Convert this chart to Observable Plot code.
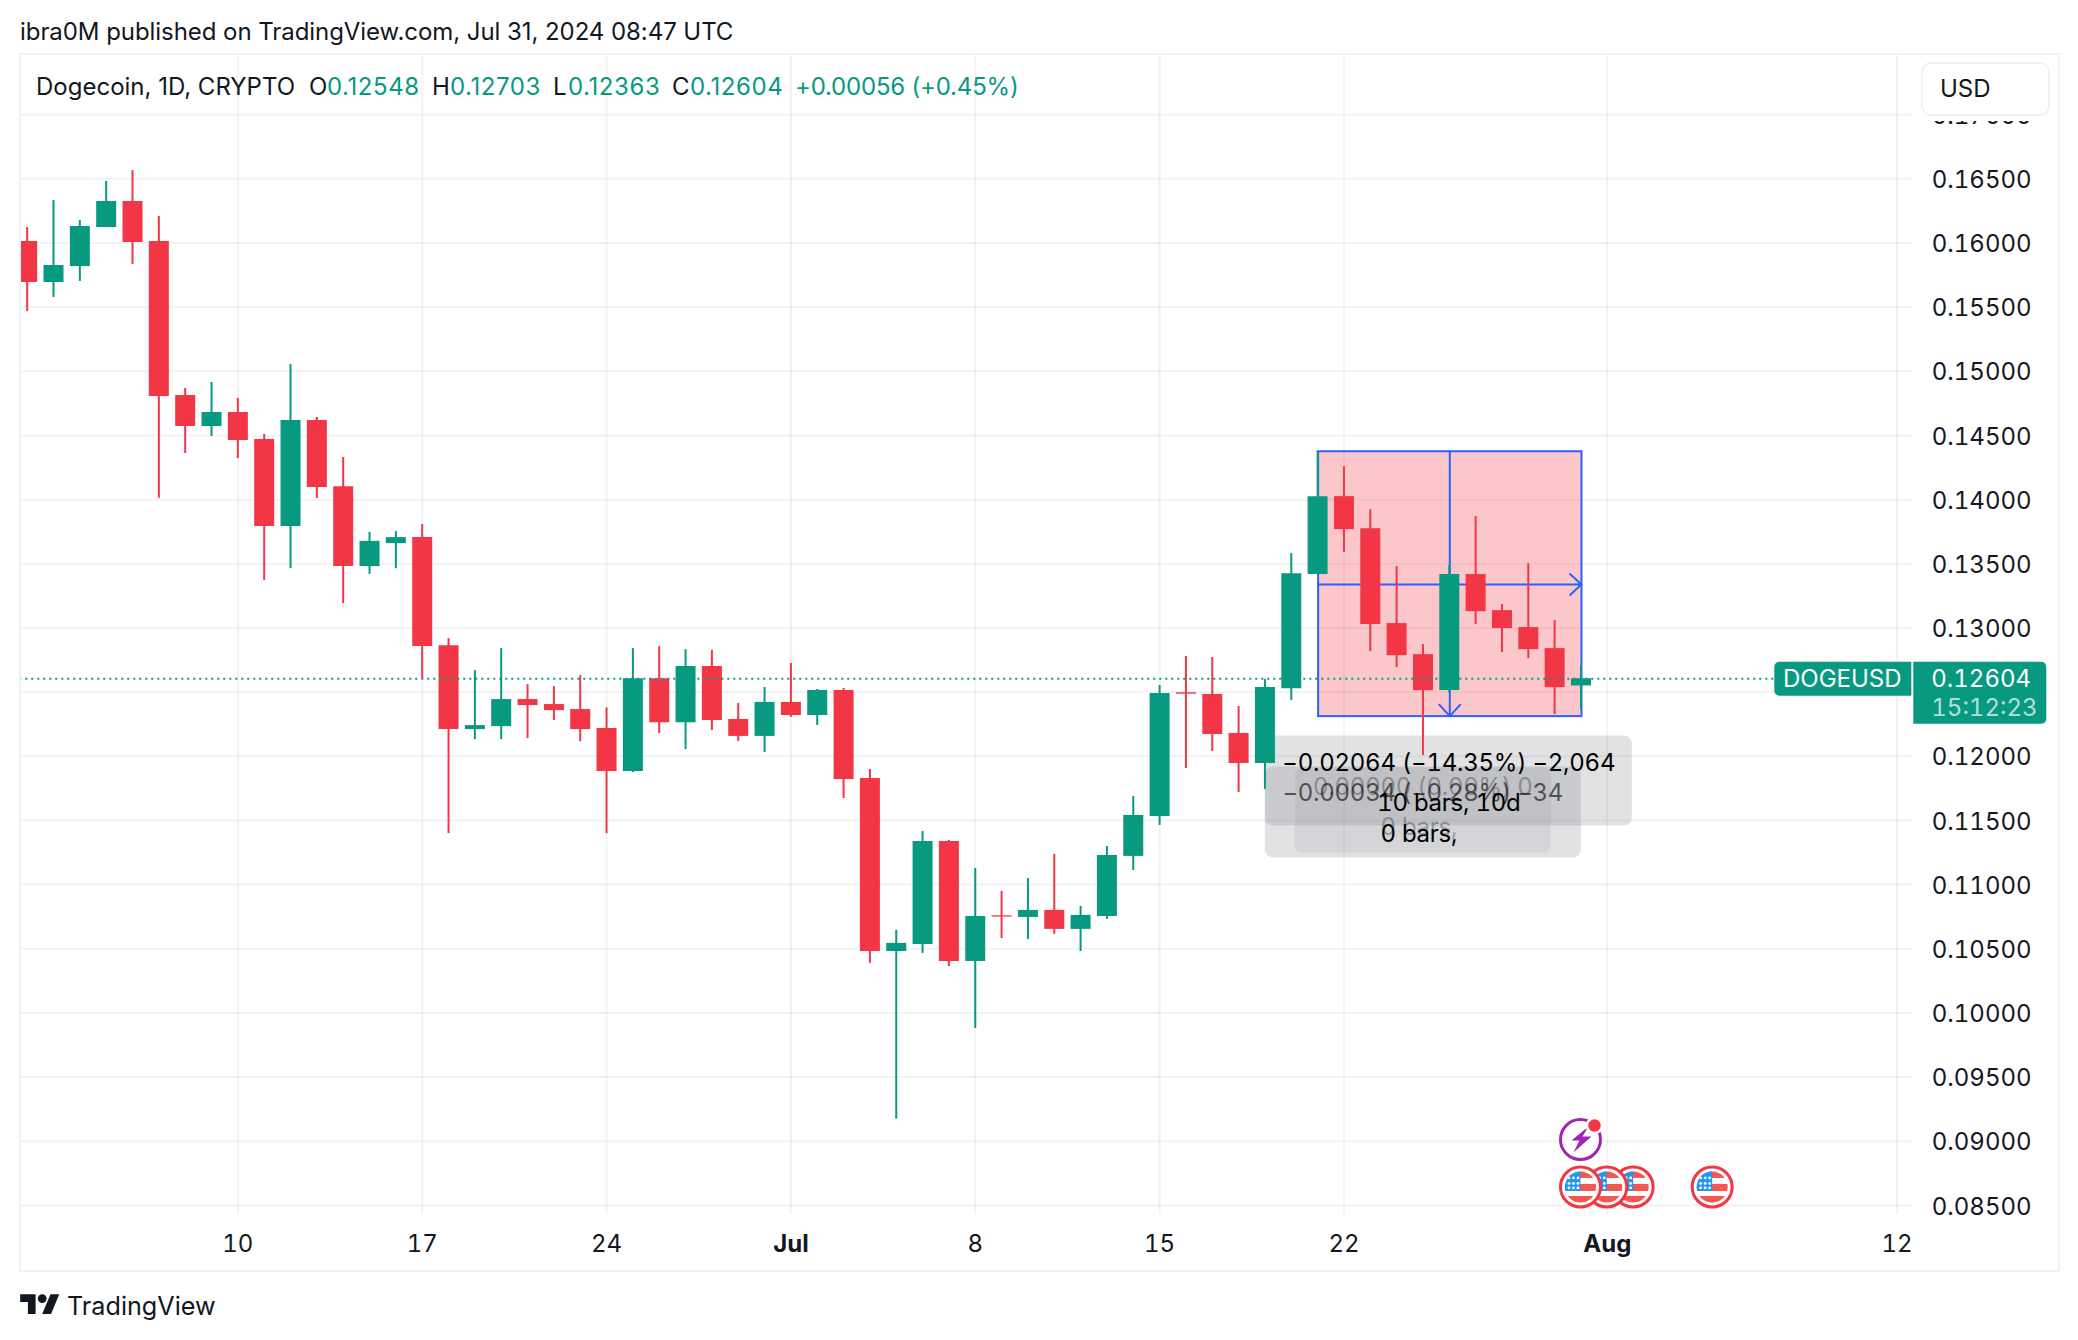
<!DOCTYPE html>
<html>
<head>
<meta charset="utf-8">
<script src="https://cdn.jsdelivr.net/npm/d3@7"></script>
<script src="https://cdn.jsdelivr.net/npm/@observablehq/plot@0.6"></script>
<style>
html,body{margin:0;padding:0;background:#fff;width:2078px;height:1340px;overflow:hidden}
body{font-family:Inter,"Noto Sans",sans-serif;color:#131722;font-size:24px;position:relative}
.a{position:absolute;white-space:nowrap;line-height:30px}
.t{top:71.5px}
.v{letter-spacing:.57px}
.g{color:#089981}
#chart{position:absolute;left:0;top:54px}
#panel{position:absolute;left:19px;top:53px;width:2037px;height:1215px;border:2px solid #f0f1f6;pointer-events:none}
#mask{position:absolute;left:1914px;top:56px;width:142px;height:65px;background:#fff}
#usd{position:absolute;left:1921px;top:62px;width:125px;height:50px;border:2px solid #f0f1f6;border-radius:10px;background:#fff;line-height:50px;text-indent:17px;box-sizing:content-box}
</style>
</head>
<body>
<div class="a" style="left:20px;top:17px;letter-spacing:-.06px">ibra0M published on TradingView.com, Jul 31, 2024 08:47 UTC</div>
<div id="chart"></div>
<div id="panel"></div>
<div id="mask"></div>
<div id="usd">USD</div>
<div class="a t" style="left:36px">Dogecoin, 1D, CRYPTO</div>
<div class="a t" style="left:309px">O</div><div class="a t v g" style="left:327px">0.12548</div>
<div class="a t" style="left:432px">H</div><div class="a t v g" style="left:450px">0.12703</div>
<div class="a t" style="left:553px">L</div><div class="a t v g" style="left:568px">0.12363</div>
<div class="a t" style="left:672px">C</div><div class="a t v g" style="left:690px">0.12604</div>
<div class="a t g" style="left:795px;letter-spacing:-.2px">+0.00056 (+0.45%)</div>
<svg style="position:absolute;left:20px;top:1292px" width="40" height="24" viewBox="0 2 36 21.8"><path fill="#131722" d="M14 22H7V11H0V4h14v18zM28 22h-8l7.5-18h8L28 22z"/><circle fill="#131722" cx="20" cy="8" r="4"/></svg>
<div class="a" style="left:67px;top:1291px;font-size:25.2px">TradingView</div>
<script>
const days = ["2024-06-02","2024-06-03","2024-06-04","2024-06-05","2024-06-06","2024-06-07","2024-06-08","2024-06-09","2024-06-10","2024-06-11","2024-06-12","2024-06-13","2024-06-14","2024-06-15","2024-06-16","2024-06-17","2024-06-18","2024-06-19","2024-06-20","2024-06-21","2024-06-22","2024-06-23","2024-06-24","2024-06-25","2024-06-26","2024-06-27","2024-06-28","2024-06-29","2024-06-30","2024-07-01","2024-07-02","2024-07-03","2024-07-04","2024-07-05","2024-07-06","2024-07-07","2024-07-08","2024-07-09","2024-07-10","2024-07-11","2024-07-12","2024-07-13","2024-07-14","2024-07-15","2024-07-16","2024-07-17","2024-07-18","2024-07-19","2024-07-20","2024-07-21","2024-07-22","2024-07-23","2024-07-24","2024-07-25","2024-07-26","2024-07-27","2024-07-28","2024-07-29","2024-07-30","2024-07-31"];
const opens = [.16012,.15692,.15817,.16121,.16323,.16012,.14812,.1457,.14679,.14469,.1379,.14617,.14101,.13478,.13657,.13704,.12862,.12208,.12231,.12442,.12403,.12364,.12216,.11881,.12605,.12262,.127,.12287,.12155,.1242,.12318,.12513,.11827,.10479,.10534,.11336,.10401,.10757,.10744,.10799,.10651,.10752,.1122,.11531,.12495,.12482,.12178,.11944,.12527,.13416,.14023,.13774,.13034,.12792,.12512,.13416,.13135,.13003,.12839,.12548];
const highs = [.16121,.16331,.16175,.16479,.16565,.16206,.14866,.14913,.14788,.14508,.15053,.1464,.14329,.13745,.13751,.13805,.12917,.12668,.12839,.12558,.12543,.12629,.12377,.12839,.12855,.12831,.12825,.12412,.12536,.12723,.12521,.12529,.11897,.10643,.11414,.11344,.11126,.10947,.11048,.11235,.1083,.11297,.11687,.12552,.12778,.1277,.12388,.12599,.13579,.14377,.14257,.13922,.13478,.1287,.13486,.13868,.13182,.13501,.13057,.12703];
const lows = [.15466,.15575,.157,.1612,.15832,.1401,.1436,.14492,.14321,.1337,.13462,.14008,.1319,.13416,.13462,.12605,.11397,.1213,.1213,.12138,.12278,.12114,.11397,.11873,.12177,.12052,.12201,.12116,.1203,.12303,.1224,.11671,.10386,.09173,.10464,.10362,.09879,.1058,.10573,.10612,.10479,.10729,.1111,.11461,.11905,.12038,.11718,.11742,.12434,.13416,.13587,.12816,.12691,.12005,.12496,.13026,.12808,.12761,.12325,.12363];
const closes = [.15692,.15825,.16129,.16323,.16004,.14804,.1457,.14679,.14461,.13791,.14617,.14094,.13478,.13675,.13704,.12855,.12208,.12239,.12442,.12395,.12356,.12208,.11881,.12605,.12262,.12699,.12279,.12155,.1242,.12318,.12513,.1182,.10479,.10542,.11336,.10401,.10752,.10747,.10799,.10651,.1076,.11227,.11539,.1249,.12484,.1217,.11944,.12536,.13423,.14023,.13766,.13026,.12784,.12512,.13416,.13127,.12995,.12831,.12535,.12604];
const priceTicks = [.085,.09,.095,.1,.105,.11,.115,.12,.125,.13,.135,.14,.145,.15,.155,.16,.165,.17];
const plainDays = ["2024-06-10","2024-06-17","2024-06-24","2024-07-08","2024-07-15","2024-07-22","2024-08-12"];
const monthDays = ["2024-07-01","2024-08-01"];
const plainLabels = ["10","17","24","8","15","22","12"];
const monthLabels = ["Jul","Aug"];
const lastPrice = 0.12604;
const rangeTop = 0.14377, rangeBottom = 0.12313, rangeMid = 0.13338;
const flagDays = ["2024-08-05","2024-08-02","2024-08-01","2024-07-31"];
const tooltipLines = ["−0.02064 (−14.35%) −2,064","−0.00034 (−0.28%) −34","0.00000 (0.00%) 0","10 bars, 10d","0 bars,","0 bars,"];

const UP = "#089981", DOWN = "#f23645", BLUE = "#2962ff", INK = "#131722";
const D = s => new Date(s + "T00:00:00Z");
const candles = days.map((d,i)=>({d:D(d),o:opens[i],h:highs[i],l:lows[i],c:closes[i]}));
const color = r => r.c >= r.o ? UP : DOWN;
const allTicks = plainDays.concat(monthDays).map(D);

const rangeBox = (i, s) => {
  const g = d3.create("svg:g").attr("transform","translate(1,0.5)");
  const x1 = s.x(D("2024-07-21")), x2 = s.x(D("2024-07-31")), xm = s.x(D("2024-07-26"));
  const y1 = s.y(rangeTop), y2 = s.y(rangeBottom), ym = s.y(rangeMid);
  g.append("rect").attr("x",x1).attr("y",y1).attr("width",x2-x1).attr("height",y2-y1)
    .attr("fill",DOWN).attr("fill-opacity",.28).attr("stroke",BLUE).attr("stroke-width",2);
  g.append("path").attr("fill","none").attr("stroke",BLUE).attr("stroke-width",2)
    .attr("d",`M${x1},${ym}H${x2}M${x2-12},${ym-11}L${x2},${ym}L${x2-12},${ym+11}M${xm},${y1}V${y2}M${xm-11},${y2-12}L${xm},${y2}L${xm+11},${y2-12}`);
  return g.node();
};

const tooltip = (i, s) => {
  const g = d3.create("svg:g");
  const cx = s.x(D("2024-07-26")), by = s.y(rangeBottom);
  const boxes = [[-184,20,367,90],[-184,51,316,91],[-154,52,256,85]];
  const fills = [.22,.22,.12];
  boxes.forEach((b,k)=>g.append("rect").attr("x",cx+b[0]).attr("y",by+b[1]).attr("width",b[2]).attr("height",b[3])
    .attr("rx",8).attr("fill","#787b86").attr("fill-opacity",fills[k]));
  return g.node();
};

const tooltipText = (i, s) => {
  const g = d3.create("svg:g").attr("text-anchor","middle").attr("font-size",24).attr("dominant-baseline","central").style("font-variant-numeric","tabular-nums").style("letter-spacing","-.25px");
  const cx = s.x(D("2024-07-26")), by = s.y(rangeBottom);
  const place = [[0,47,1],[-26,77,.6],[-26,71,.3],[0,87,1],[-30,118,1],[-30,111,.3]];
  tooltipLines.forEach((t,k)=>g.append("text").attr("x",cx+place[k][0]).attr("y",by+place[k][1])
    .attr("fill","#000").attr("fill-opacity",place[k][2]).text(t));
  return g.node();
};

const icons = (i, s) => {
  const g = d3.create("svg:g");
  const base = s.y(0.0864);
  flagDays.forEach((d,k)=>{
    const f = g.append("g").attr("transform",`translate(${s.x(D(d))},${base})`);
    const id = "fc"+k;
    f.append("clipPath").attr("id",id).append("circle").attr("r",15.5);
    f.append("circle").attr("r",20).attr("fill","#fff").attr("stroke",DOWN).attr("stroke-width",3);
    const c = f.append("g").attr("clip-path",`url(#${id})`);
    c.append("rect").attr("x",-16).attr("y",-16).attr("width",32).attr("height",32).attr("fill","#fff");
    [[-16,7],[-3,7],[9,8]].forEach(r=>c.append("rect").attr("x",-16).attr("y",r[0]).attr("width",32).attr("height",r[1]).attr("fill","#f5574f"));
    c.append("rect").attr("x",-16).attr("y",-16).attr("width",16).attr("height",20).attr("fill","#2196f3");
    [-9,-3.5,1].forEach(y=>[-11.5,-7,-2.5].forEach(x=>c.append("circle").attr("cx",x).attr("cy",y).attr("r",1.4).attr("fill","#fff")));
  });
  const b = g.append("g").attr("transform",`translate(${s.x(D("2024-07-31"))},${s.y(0.0901)})`);
  b.append("circle").attr("r",20).attr("fill","#fff").attr("stroke","#9c27b0").attr("stroke-width",3);
  b.append("path").attr("fill","#9c27b0").attr("d","M8,-13L-9,1H-1L-7,13L11,-3H2Z");
  b.append("circle").attr("cx",14).attr("cy",-14).attr("r",7.5).attr("fill","#f23645").attr("stroke","#fff").attr("stroke-width",2.5);
  return g.node();
};

const priceTag = (i, s) => {
  const g = d3.create("svg:g").attr("font-size",24).attr("dominant-baseline","central").attr("fill","#fff").attr("text-anchor","start");
  const y = s.y(lastPrice);
  const right = s.x(new Date(Date.UTC(2024,7,12,14,24)));
  g.append("path").attr("fill",UP).attr("d",`M${right-1},${y-16.5}V${y+17.5}H${right-133}a5,5 0 0 1 -5,-5V${y-11.5}a5,5 0 0 1 5,-5Z`);
  g.append("path").attr("fill",UP).attr("d",`M${right+1},${y-16.5}H${right+129}a5,5 0 0 1 5,5V${y+40.5}a5,5 0 0 1 -5,5H${right+1}Z`);
  g.append("text").attr("x",right-70).attr("y",y).attr("text-anchor","middle").text("DOGEUSD");
  g.append("text").attr("x",right+19).attr("y",y).style("font-variant-numeric","tabular-nums").text(lastPrice.toFixed(5));
  g.append("text").attr("x",right+19).attr("y",y+29).attr("fill-opacity",.7).style("font-variant-numeric","tabular-nums").text("15:12:23");
  return g.node();
};

const chart = Plot.plot({
  width: 2078,
  height: 1216,
  marginLeft: 19.3,
  marginRight: 165.7,
  marginTop: 0,
  marginBottom: 56,
  style: {fontFamily: "Inter, sans-serif", fontSize: "24px", color: INK, background: "transparent", overflow: "visible"},
  x: {type: "utc", domain: [new Date(Date.UTC(2024,5,1,17,17)), new Date(Date.UTC(2024,7,12,14,24))]},
  y: {domain: [0.084294, 0.174686]},
  marks: [
    Plot.ruleY(priceTicks, {stroke: "#2a2e39", strokeOpacity: .06, strokeWidth: 2}),
    Plot.ruleX(allTicks, {stroke: "#2a2e39", strokeOpacity: .06, strokeWidth: 2}),
    rangeBox,
    tooltip,
    Plot.ruleX(candles, {x: "d", y1: "l", y2: "h", stroke: color, strokeWidth: 2, clip: true}),
    Plot.ruleX(candles, {x: "d", y1: "o", y2: "c", stroke: color, strokeWidth: 20, clip: true}),
    Plot.ruleY([lastPrice], {x1: () => new Date(Date.UTC(2024,5,1,17,17)), x2: () => new Date(Date.UTC(2024,7,7,8,10)), stroke: UP, strokeWidth: 2, strokeDasharray: "2,4"}),
    tooltipText,
    icons,
    Plot.axisY({anchor: "right", ticks: priceTicks, tickSize: 0, tickPadding: 19, dy: 1.5, tickFormat: d3.format(".5f"), label: null, fontSize: 24, fill: INK}),
    Plot.axisX({anchor: "bottom", ticks: plainDays.map(D), tickSize: 0, tickPadding: 20.5, tickFormat: d => plainLabels[plainDays.indexOf(d3.utcFormat("%Y-%m-%d")(d))], label: null, fontSize: 24, fill: INK}),
    Plot.axisX({anchor: "bottom", ticks: monthDays.map(D), tickSize: 0, tickPadding: 20.5, tickFormat: d => monthLabels[monthDays.indexOf(d3.utcFormat("%Y-%m-%d")(d))], label: null, fontSize: 24, fontWeight: 700, fill: INK}),
    priceTag
  ]
});
document.getElementById("chart").appendChild(chart);
</script>
</body>
</html>
